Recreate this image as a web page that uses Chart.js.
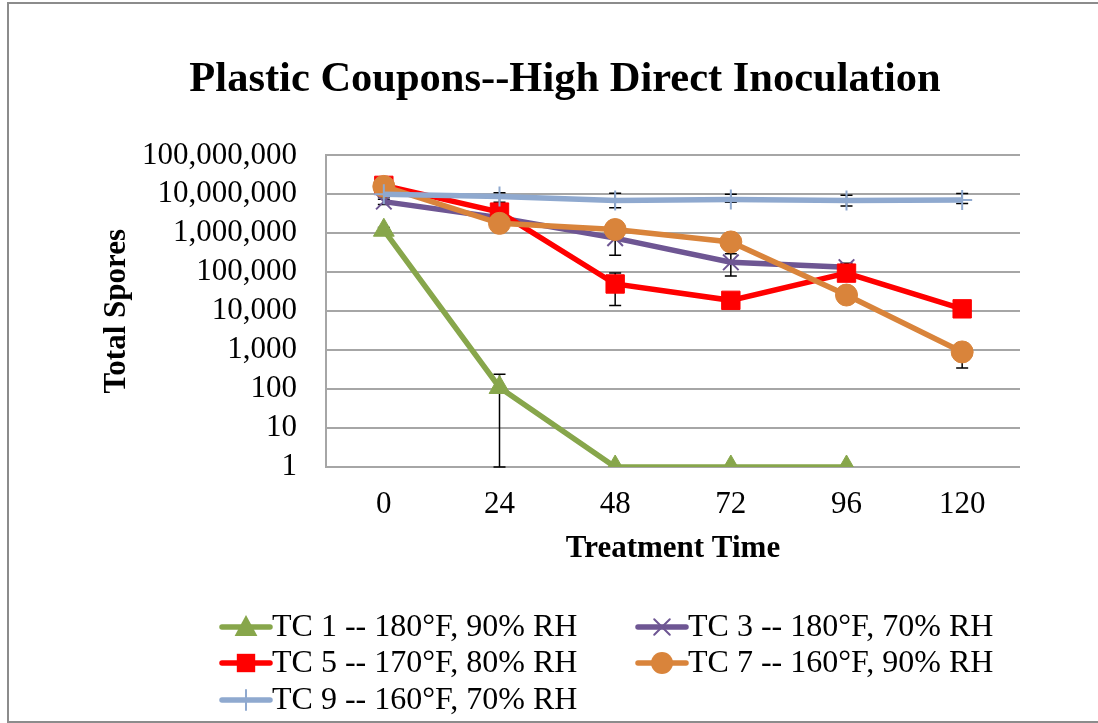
<!DOCTYPE html>
<html><head><meta charset="utf-8">
<script src="https://cdn.jsdelivr.net/npm/chart.js@4/dist/chart.umd.min.js"></script>
<style>html,body{margin:0;padding:0;background:#fff;} canvas{display:block;}</style>
</head><body>
<canvas id="c" width="1098" height="723"></canvas>
<script>
const categories = ['0', '24', '48', '72', '96', '120'];
const seriesLabels = ['TC 1 -- 180°F, 90% RH', 'TC 3 -- 180°F, 70% RH', 'TC 5 -- 170°F, 80% RH', 'TC 7 -- 160°F, 90% RH', 'TC 9 -- 160°F, 70% RH'];
const tc1 = [1200000, 110, 1, 1, 1, null];
const tc3 = [6500000, 2500000, 750000, 180000, 135000, null];
const tc5 = [17000000, 3500000, 50000, 19000, 95000, 11500];
const tc7 = [16000000, 1800000, 1250000, 600000, 26000, 900];
const tc9 = [10000000, 8800000, 7000000, 7400000, 7000000, 7200000];
// error bars: [low, high] per point
const tc1Err = [[900000, 1400000], [1, 240], null, null, null, null];
const tc3Err = [[5500000, 7500000], [2000000, 3000000], [275000, 1000000], [80000, 300000], [110000, 170000], null];
const tc5Err = [[14000000, 20000000], [2500000, 5000000], [14000, 95000], [13000, 25000], [80000, 120000], [8200, 15000]];
const tc7Err = [[13000000, 19000000], [1100000, 2500000], [900000, 1600000], [400000, 1000000], [20000, 32000], [350, 1500]];
const tc9Err = [[8500000, 11500000], [6300000, 11000000], [4500000, 10700000], [6300000, 10000000], [5000000, 9500000], [5800000, 10500000]];
const yTickValues = [1, 10, 100, 1000, 10000, 100000, 1000000, 10000000, 100000000];

const FONT = "'Liberation Serif', 'Times New Roman', serif";
const errs = [tc1Err, tc3Err, tc5Err, tc7Err, tc9Err];

function drawMarker(ctx, style, x, y, r, color, bw) {
  ctx.save();
  ctx.fillStyle = color; ctx.strokeStyle = color; ctx.lineWidth = bw;
  ctx.beginPath();
  if (style === 'triangle') {
    ctx.moveTo(x, y - r);
    ctx.lineTo(x + r * 0.95, y + r * 0.75);
    ctx.lineTo(x - r * 0.95, y + r * 0.75);
    ctx.closePath(); ctx.fill();
  } else if (style === 'rect') {
    const s = r * Math.SQRT1_2;
    ctx.rect(x - s, y - s, 2 * s, 2 * s); ctx.fill();
  } else if (style === 'circle') {
    ctx.arc(x, y, r, 0, Math.PI * 2); ctx.fill();
  } else if (style === 'crossRot') {
    const s = r * Math.SQRT1_2;
    ctx.moveTo(x - s, y - s); ctx.lineTo(x + s, y + s);
    ctx.moveTo(x + s, y - s); ctx.lineTo(x - s, y + s); ctx.stroke();
  } else if (style === 'cross') {
    ctx.moveTo(x, y - r); ctx.lineTo(x, y + r);
    ctx.moveTo(x - r, y); ctx.lineTo(x + r, y); ctx.stroke();
  }
  ctx.restore();
}

const frame = {
  id: 'frame',
  beforeDraw(chart) {
    const ctx = chart.ctx;
    ctx.save();
    ctx.fillStyle = '#fff';
    ctx.fillRect(0, 0, chart.width, chart.height);
    ctx.strokeStyle = '#8c8c8c'; ctx.lineWidth = 2;
    ctx.beginPath();
    ctx.moveTo(8, 723); ctx.lineTo(8, 3); ctx.lineTo(1098, 3);
    ctx.moveTo(8, 722); ctx.lineTo(1098, 722);
    ctx.stroke();
    ctx.restore();
  }
};

const errorBars = {
  id: 'errorBars',
  beforeDatasetsDraw(chart) {
    const ctx = chart.ctx, xs = chart.scales.x, ys = chart.scales.y;
    ctx.save();
    ctx.strokeStyle = '#000'; ctx.lineWidth = 1.5;
    errs.forEach(arr => {
      arr.forEach((e, j) => {
        if (!e) return;
        const x = xs.getPixelForValue(j);
        const y1 = ys.getPixelForValue(e[0]);
        const y2 = ys.getPixelForValue(e[1]);
        ctx.beginPath();
        ctx.moveTo(x, y1); ctx.lineTo(x, y2);
        ctx.moveTo(x - 6, y1); ctx.lineTo(x + 6, y1);
        ctx.moveTo(x - 6, y2); ctx.lineTo(x + 6, y2);
        ctx.stroke();
      });
    });
    ctx.restore();
  }
};

const legendPlugin = {
  id: 'customLegend',
  afterDraw(chart) {
    const ctx = chart.ctx;
    const order = [0, 1, 2, 3, 4];
    const cols = [220, 636];
    const rows = [627, 663, 700];
    ctx.save();
    ctx.font = "32px " + FONT;
    ctx.textBaseline = 'middle';
    ctx.textAlign = 'left';
    order.forEach((di, k) => {
      const ds = chart.data.datasets[di];
      const x0 = cols[k % 2], y = rows[Math.floor(k / 2)];
      ctx.strokeStyle = ds.borderColor; ctx.lineWidth = 5.5; ctx.lineCap = 'round';
      ctx.beginPath(); ctx.moveTo(x0 + 2, y); ctx.lineTo(x0 + 50, y); ctx.stroke();
      drawMarker(ctx, ds.pointStyle, x0 + 26, y, ds.pointRadius, ds.borderColor, ds.pointBorderWidth);
      ctx.fillStyle = '#000';
      ctx.fillText(ds.label, x0 + 52, y + 1);
    });
    ctx.restore();
  }
};

const colors = ['#87a64b', '#6e5693', '#ff0000', '#d9843b', '#8fa9cf'];
const styles = ['triangle', 'crossRot', 'rect', 'circle', 'cross'];
const radii = [12, 11, 13, 11, 10];
const bws = [1, 2, 1, 1, 2];
const values = [tc1, tc3, tc5, tc7, tc9];

const datasets = values.map((v, i) => ({
  label: seriesLabels[i],
  data: v,
  borderColor: colors[i],
  backgroundColor: colors[i],
  pointBackgroundColor: colors[i],
  pointBorderColor: colors[i],
  borderWidth: 5.5,
  pointStyle: styles[i],
  pointRadius: radii[i],
  pointBorderWidth: bws[i],
  tension: 0,
  spanGaps: false,
  order: 5 - i
}));

new Chart(document.getElementById('c'), {
  type: 'line',
  data: { labels: categories, datasets },
  plugins: [frame, errorBars, legendPlugin],
  options: {
    responsive: false,
    animation: false,
    devicePixelRatio: 1,
    layout: { padding: { left: 32, right: 0, top: 0, bottom: 146 } },
    plugins: {
      legend: { display: false },
      tooltip: { enabled: false },
      title: {
        display: true,
        text: 'Plastic Coupons--High Direct Inoculation',
        color: '#000',
        font: { family: FONT, size: 42.5, weight: 'bold', lineHeight: 1.2 },
        padding: { top: 55, bottom: 49.4 }
      }
    },
    scales: {
      x: {
        offset: true,
        grid: { display: false, drawTicks: false },
        border: { display: false },
        ticks: { color: '#000', padding: 19, font: { family: FONT, size: 31, lineHeight: 1.2 } },
        title: {
          display: true, text: 'Treatment Time', color: '#000',
          font: { family: FONT, size: 31, weight: 'bold', lineHeight: 1.2 },
          padding: { top: 0, bottom: 9 }
        },
        afterFit(s) { s.height = 110; }
      },
      y: {
        type: 'logarithmic',
        min: 1, max: 100000000,
        afterBuildTicks(s) { s.ticks = yTickValues.map(v => ({ value: v })); },
        grid: { color: '#a6a6a6', lineWidth: 2, drawTicks: false },
        border: { display: true, color: '#a6a6a6', width: 2 },
        ticks: {
          color: '#000', padding: 29, autoSkip: false,
          font: { family: FONT, size: 31, lineHeight: 1.2 },
          callback: v => Number(v).toLocaleString('en-US')
        },
        title: {
          display: true, text: 'Total Spores', color: '#000',
          font: { family: FONT, size: 31, weight: 'bold', lineHeight: 1.2 },
          padding: { top: 66, bottom: 0 }
        },
        afterFit(s) { s.width = 294; }
      },
      y2: {
        position: 'right',
        display: true,
        grid: { display: false, drawTicks: false },
        border: { display: false },
        ticks: { display: false },
        afterFit(s) { s.width = 78; }
      }
    }
  }
});
</script>
</body></html>
